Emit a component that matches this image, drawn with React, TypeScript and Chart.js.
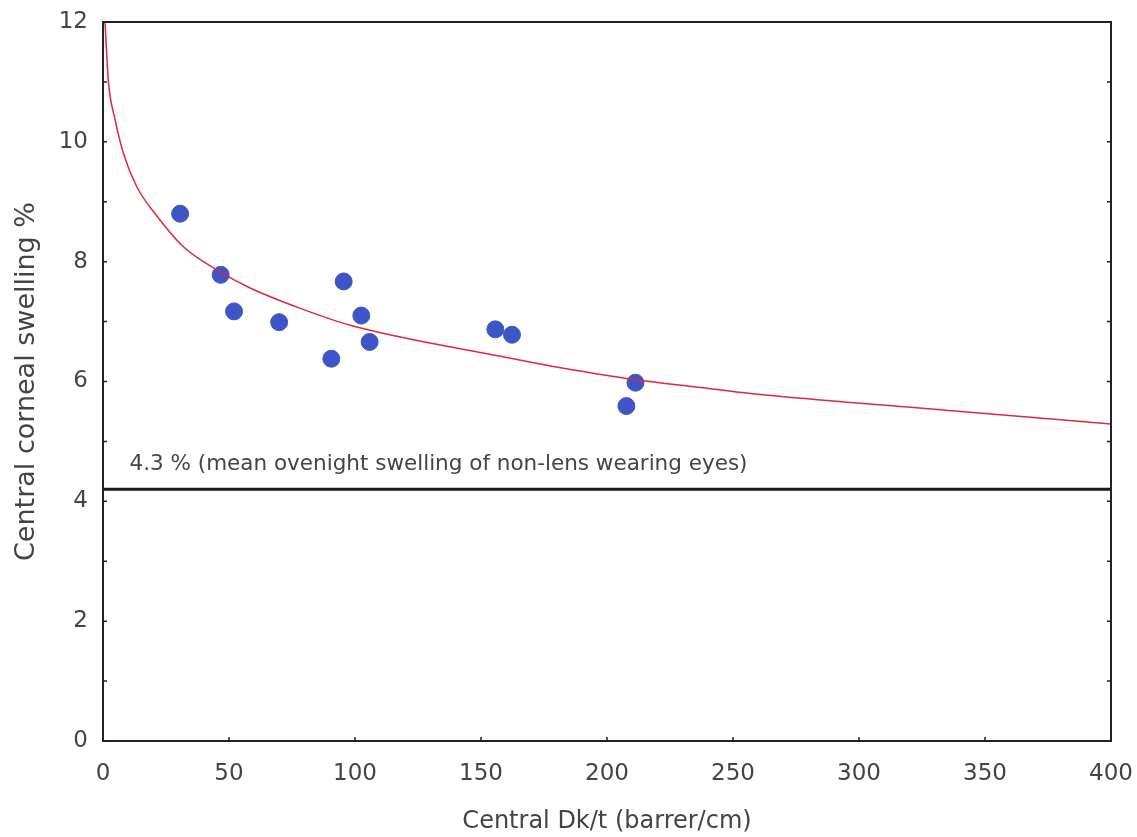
import React, { useEffect, useRef } from "react";
import { Chart, registerables } from "chart.js";

Chart.register(...registerables);

const dkt = [30.6, 46.7, 52.0, 69.9, 95.5, 102.5, 105.8, 90.6, 155.7, 162.3, 211.3, 207.7];
const swelling = [8.8, 7.78, 7.17, 6.99, 7.67, 7.1, 6.66, 6.38, 6.87, 6.78, 5.98, 5.59];

const curveX = [0.8, 2.1, 4.8, 8.1, 13.4, 20.7, 31.9, 46.5, 58.4, 78.3, 98.1, 157.7, 177.6, 211.3, 237.1, 257, 296.7, 340.4, 400];
const curveY = [12.0, 11.03, 10.37, 9.81, 9.25, 8.8, 8.25, 7.83, 7.56, 7.22, 6.94, 6.42, 6.26, 6.03, 5.9, 5.8, 5.65, 5.5, 5.29];

const refX = [0, 400];
const refY = [4.2, 4.2];
const refLabel = "4.3 % (mean ovenight swelling of non-lens wearing eyes)";

const xTicks = [0, 50, 100, 150, 200, 250, 300, 350, 400];
const yTicks = [0, 1, 2, 3, 4, 5, 6, 7, 8, 9, 10, 11, 12];

const FONT = "'DejaVu Sans', sans-serif";
const TEXT = "#444";

const framePlugin = {
  id: "frame",
  afterDraw(chart: any) {
    const { ctx, chartArea } = chart;
    const xs = chart.scales.x;
    const ys = chart.scales.y;
    ctx.save();
    ctx.strokeStyle = "#222";
    ctx.lineWidth = 2;
    ctx.strokeRect(chartArea.left, chartArea.top, chartArea.right - chartArea.left, chartArea.bottom - chartArea.top);
    ctx.lineWidth = 1.5;
    ctx.beginPath();
    for (const v of yTicks) {
      const py = ys.getPixelForValue(v);
      ctx.moveTo(chartArea.left, py);
      ctx.lineTo(chartArea.left + 4, py);
      ctx.moveTo(chartArea.right, py);
      ctx.lineTo(chartArea.right - 4, py);
    }
    for (const v of xTicks) {
      const px = xs.getPixelForValue(v);
      ctx.moveTo(px, chartArea.bottom);
      ctx.lineTo(px, chartArea.bottom - 4);
    }
    ctx.stroke();
    ctx.fillStyle = TEXT;
    ctx.font = "21.5px " + FONT;
    ctx.textBaseline = "middle";
    ctx.textAlign = "left";
    ctx.fillText(refLabel, xs.getPixelForValue(10.5), ys.getPixelForValue(4.61));
    ctx.restore();
  },
};

export default function App() {
  const ref = useRef<HTMLCanvasElement>(null);
  useEffect(() => {
    if (!ref.current) return;
    const chart = new Chart(ref.current, {
      type: "scatter",
      data: {
        datasets: [
          {
            label: "fit",
            data: curveX.map((x, i) => ({ x, y: curveY[i] })),
            showLine: true,
            borderColor: "#e0283c",
            borderWidth: 1.5,
            pointRadius: 0,
            cubicInterpolationMode: "monotone",
            order: 0,
          },
          {
            label: "ref",
            data: refX.map((x, i) => ({ x, y: refY[i] })),
            showLine: true,
            borderColor: "#1a1a1a",
            borderWidth: 3,
            pointRadius: 0,
            order: 1,
          },
          {
            label: "data",
            data: dkt.map((x, i) => ({ x, y: swelling[i] })),
            backgroundColor: "#3d55c6",
            borderColor: "#3d55c6",
            pointRadius: 8.5,
            order: 2,
          },
        ],
      },
      options: {
        animation: false,
        responsive: false,
        maintainAspectRatio: false,
        layout: { padding: { left: 0, top: 22, right: 26, bottom: 0 } },
        plugins: { legend: { display: false }, tooltip: { enabled: false } },
        scales: {
          x: {
            type: "linear",
            min: 0,
            max: 400,
            afterFit: (s: any) => {
              s.height = 96;
              s.paddingLeft = 0;
              s.paddingRight = 0;
            },
            afterBuildTicks: (s: any) => { s.ticks = xTicks.map((v) => ({ value: v })); },
            grid: { display: false },
            border: { display: false },
            ticks: { color: TEXT, font: { family: FONT, size: 23 }, padding: 11, maxRotation: 0 },
            title: {
              display: true,
              text: "Central Dk/t (barrer/cm)",
              color: TEXT,
              font: { family: FONT, size: 24 },
              padding: { top: 2, bottom: 1 },
            },
          },
          y: {
            type: "linear",
            min: 0,
            max: 12,
            afterFit: (s: any) => {
              s.width = 103;
              s.paddingTop = 0;
              s.paddingBottom = 0;
            },
            afterBuildTicks: (s: any) => { s.ticks = yTicks.map((v) => ({ value: v })); },
            grid: { display: false },
            border: { display: false },
            ticks: {
              color: TEXT,
              font: { family: FONT, size: 23 },
              padding: 7,
              callback: (v: any) => (Number(v) % 2 === 0 ? String(v) : ""),
            },
            title: {
              display: true,
              text: "Central corneal swelling %",
              color: TEXT,
              font: { family: FONT, size: 27 },
              padding: { top: 11, bottom: 0 },
            },
          },
        },
      },
      plugins: [framePlugin],
    } as any);
    return () => chart.destroy();
  }, []);
  return (
    <div style={{ position: "fixed", left: 0, top: 0, width: 1137, height: 837, background: "#fff" }}>
      <canvas ref={ref} width={1137} height={837} style={{ width: 1137, height: 837 }} />
    </div>
  );
}
